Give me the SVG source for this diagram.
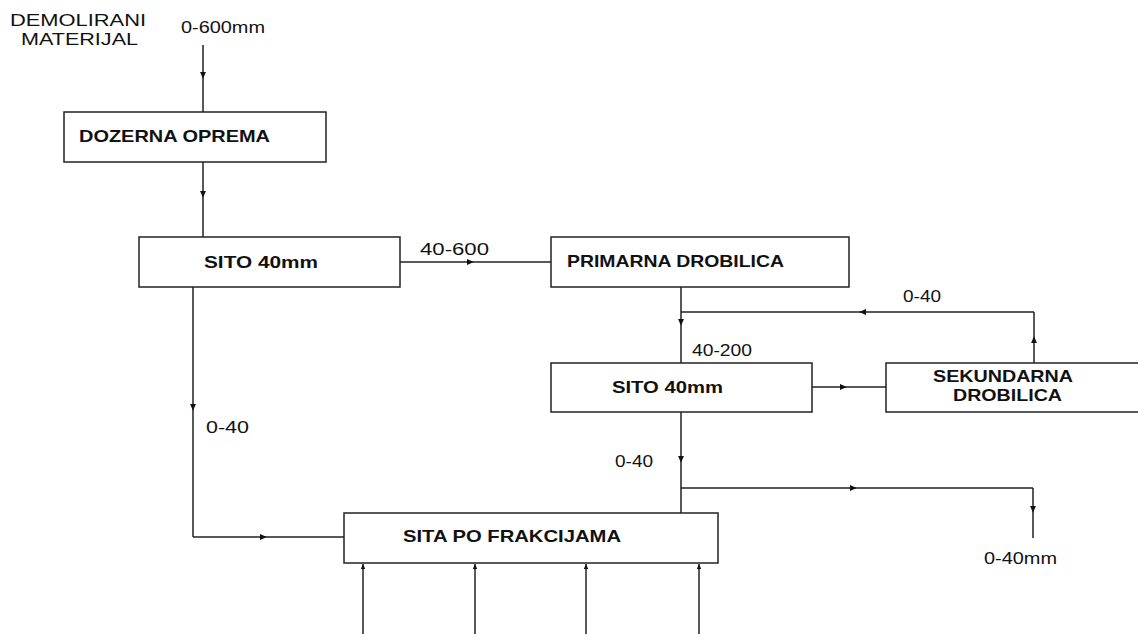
<svg xmlns="http://www.w3.org/2000/svg" xmlns:xlink="http://www.w3.org/1999/xlink" width="1138" height="634" viewBox="0 0 1138 634">
<style>
.box{fill:#fff;stroke:#222;stroke-width:1.5}
.ln{fill:none;stroke:#222;stroke-width:1.5;marker-mid:url(#ah)}
.pl{fill:none;stroke:#222;stroke-width:1.5}
.up{marker-start:url(#ahs)}
.t{font-family:"Liberation Sans",Arial,sans-serif;font-size:16px;fill:#111}
.b{font-family:"Liberation Sans",Arial,sans-serif;font-size:16.5px;font-weight:bold;fill:#111}
</style>
<defs>
<marker id="ah" viewBox="0 0 8 8" refX="6" refY="4" markerUnits="userSpaceOnUse" markerWidth="7" markerHeight="7" orient="auto">
<path d="M0,0.5 L8,4 L0,7.5 Z" fill="#111"/>
</marker>
<marker id="ahs" viewBox="0 0 8 8" refX="8" refY="4" markerUnits="userSpaceOnUse" markerWidth="5" markerHeight="5" orient="auto-start-reverse">
<path d="M0,0.5 L8,4 L0,7.5 Z" fill="#111"/>
</marker>
</defs>
<rect width="1138" height="634" fill="#fff"/>

<g id="labels">
<text class="t" x="10" y="26" textLength="136" lengthAdjust="spacingAndGlyphs">DEMOLIRANI</text>
<text class="t" x="21" y="45" textLength="117" lengthAdjust="spacingAndGlyphs">MATERIJAL</text>
<text class="t" x="181" y="33" textLength="84" lengthAdjust="spacingAndGlyphs">0-600mm</text>
<text class="t" x="420" y="255" textLength="69" lengthAdjust="spacingAndGlyphs">40-600</text>
<text class="t" x="692" y="356" textLength="60" lengthAdjust="spacingAndGlyphs">40-200</text>
<text class="t" x="903" y="302" textLength="38" lengthAdjust="spacingAndGlyphs">0-40</text>
<text class="t" x="206" y="433" textLength="43" lengthAdjust="spacingAndGlyphs">0-40</text>
<text class="t" x="615" y="467" textLength="38" lengthAdjust="spacingAndGlyphs">0-40</text>
<text class="t" x="984" y="564" textLength="73" lengthAdjust="spacingAndGlyphs">0-40mm</text>
</g>

<g id="connectors">
<path class="ln" d="M203,45 L203,77 L203,112"/>
<path class="ln" d="M203,162 L203,196 L203,237"/>
<path class="ln" d="M400,262 L472,262 L551,262"/>
<path class="ln" d="M681,287 L681,324 L681,363"/>
<path class="ln" d="M812,387 L845,387 L886,387"/>
<path class="ln" d="M1034,363 L1034,338 L1034,312"/>
<path class="ln" d="M1034,312 L861,312 L681,312"/>
<path class="ln" d="M193,287 L193,409 L193,537"/>
<path class="ln" d="M193,537 L265,537 L344,537"/>
<path class="ln" d="M681,412 L681,461 L681,513"/>
<path class="ln" d="M681,488 L855,488 L1033,488"/>
<path class="ln" d="M1033,488 L1033,511 L1033,538"/>
<path class="pl up" d="M363,564 L363,634"/>
<path class="pl up" d="M475,564 L475,634"/>
<path class="pl up" d="M586,564 L586,634"/>
<path class="pl up" d="M699,564 L699,634"/>
</g>

<g id="dozerna">
<rect class="box" x="64" y="112" width="262" height="50"/>
<text class="b" x="79" y="142" textLength="191" lengthAdjust="spacingAndGlyphs">DOZERNA OPREMA</text>
</g>
<g id="sito1">
<rect class="box" x="139" y="237" width="261" height="50"/>
<text class="b" x="204" y="268" textLength="114" lengthAdjust="spacingAndGlyphs">SITO 40mm</text>
</g>
<g id="primarna">
<rect class="box" x="551" y="237" width="298" height="50"/>
<text class="b" x="567" y="267" textLength="217" lengthAdjust="spacingAndGlyphs">PRIMARNA DROBILICA</text>
</g>
<g id="sito2">
<rect class="box" x="551" y="363" width="261" height="49"/>
<text class="b" x="612" y="393" textLength="111" lengthAdjust="spacingAndGlyphs">SITO 40mm</text>
</g>
<g id="sekundarna">
<rect class="box" x="886" y="363" width="262" height="49"/>
<text class="b" x="933" y="382" textLength="140" lengthAdjust="spacingAndGlyphs">SEKUNDARNA</text>
<text class="b" x="953" y="401" textLength="109" lengthAdjust="spacingAndGlyphs">DROBILICA</text>
</g>
<g id="sita">
<rect class="box" x="344" y="513" width="374" height="50"/>
<text class="b" x="403" y="542" textLength="218" lengthAdjust="spacingAndGlyphs">SITA PO FRAKCIJAMA</text>
</g>
</svg>
